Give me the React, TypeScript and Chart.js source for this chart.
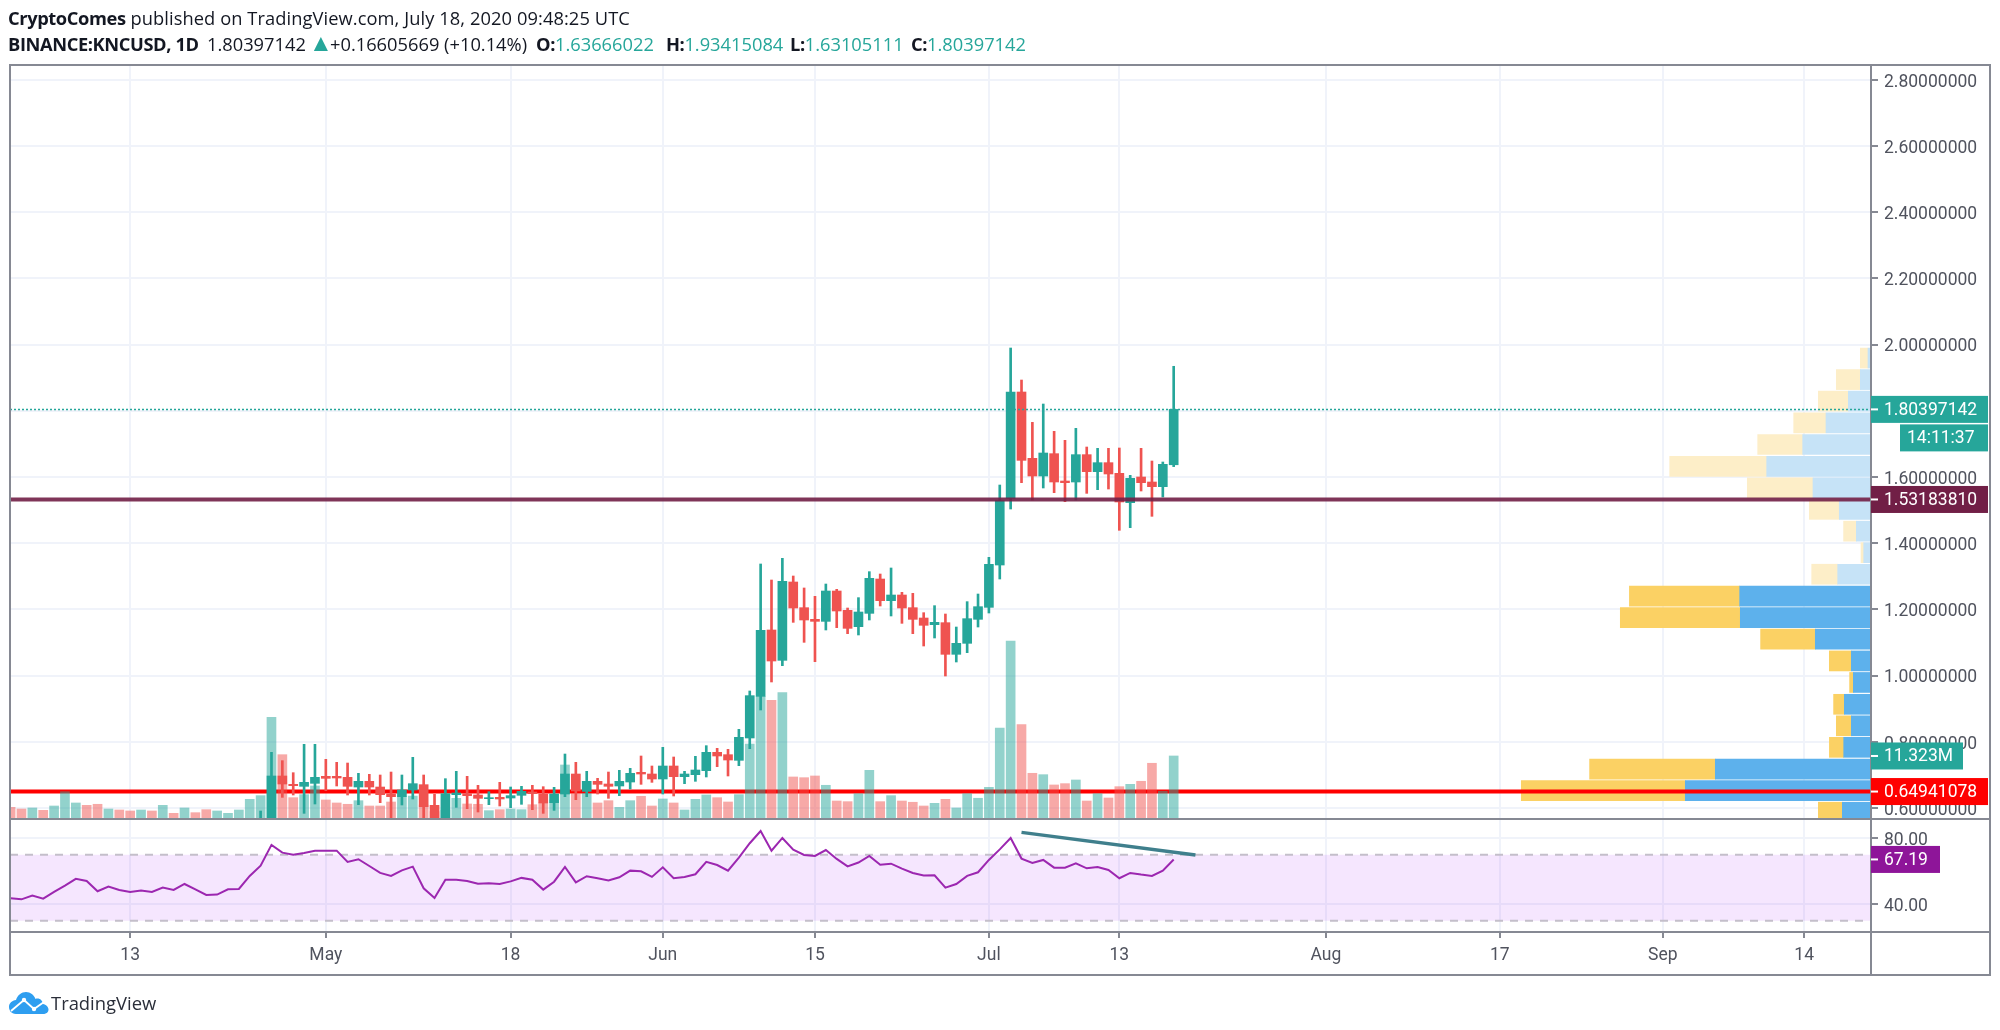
import React, { useEffect, useRef } from "react";
import { Chart, registerables } from "chart.js";

Chart.register(...registerables);

// ---------- data ----------
const candleStartDay = 23;
const opens = [
  0.54, 0.545, 0.6964, 0.6712, 0.6652, 0.6742, 0.6954, 0.6954, 0.6923, 0.6631,
  0.6803, 0.6631, 0.642, 0.6339, 0.6541, 0.6702, 0.6077, 0.5584, 0.64, 0.643,
  0.639, 0.6279, 0.6319, 0.6299, 0.638, 0.648, 0.642, 0.6158, 0.642, 0.7024,
  0.65, 0.6803, 0.6722, 0.6662, 0.6782, 0.7074, 0.7024, 0.6873, 0.7266, 0.6944,
  0.7004, 0.7125, 0.7679, 0.7608, 0.7437, 0.8112, 0.9371, 1.1375, 1.0458, 1.2825,
  1.2049, 1.1697, 1.1636, 1.2553, 1.1969, 1.1475, 1.1878, 1.2915, 1.2261, 1.2432,
  1.2049, 1.1737, 1.1536, 1.1596, 1.064, 1.0972, 1.1697, 1.2059, 1.3338, 1.5352,
  1.8565, 1.6561, 1.6027, 1.6702, 1.5876, 1.5846, 1.6672, 1.6158, 1.643, 1.6108,
  1.5222, 1.5997, 1.5846, 1.5705, 1.63666,
];
const highs = [
  0.5906, 0.7679, 0.7427, 0.7064, 0.792, 0.792, 0.7467, 0.7377, 0.7356, 0.7044,
  0.7014, 0.6994, 0.7084, 0.6994, 0.7528, 0.6994, 0.641, 0.6883, 0.7105, 0.6954,
  0.6682, 0.649, 0.6772, 0.6631, 0.6651, 0.6682, 0.6641, 0.6621, 0.7628, 0.7377,
  0.7105, 0.6893, 0.7084, 0.7135, 0.7195, 0.7568, 0.7266, 0.783, 0.7538, 0.7105,
  0.7558, 0.788, 0.78, 0.7769, 0.8374, 0.9532, 1.3369, 1.2885, 1.354, 1.3006,
  1.2644, 1.2392, 1.2764, 1.2603, 1.2039, 1.2352, 1.3137, 1.3066, 1.3248, 1.2513,
  1.2482, 1.1898, 1.211, 1.1858, 1.1465, 1.2231, 1.2462, 1.357, 1.5755, 1.9894,
  1.8927, 1.7648, 1.8202, 1.7377, 1.7105, 1.7467, 1.6903, 1.6863, 1.6863, 1.6873,
  1.6047, 1.6863, 1.648, 1.645, 1.93415,
];
const lows = [
  0.5, 0.53, 0.6319, 0.639, 0.5836, 0.6118, 0.6521, 0.6662, 0.639, 0.6098,
  0.639, 0.6158, 0.5695, 0.6088, 0.6269, 0.5695, 0.5433, 0.5514, 0.6017, 0.5977,
  0.5876, 0.6098, 0.6057, 0.6007, 0.6108, 0.5947, 0.5836, 0.5926, 0.6339, 0.6249,
  0.6339, 0.642, 0.6289, 0.637, 0.6571, 0.6712, 0.6772, 0.642, 0.636, 0.6732,
  0.6803, 0.6934, 0.7246, 0.6964, 0.7276, 0.779, 0.8958, 0.9804, 1.0297, 1.1606,
  1.1002, 1.0418, 1.1375, 1.1445, 1.1264, 1.1224, 1.1677, 1.21, 1.1798, 1.1576,
  1.1264, 1.0891, 1.1133, 0.9985, 1.0408, 1.069, 1.1465, 1.1888, 1.2915, 1.503,
  1.5826, 1.5302, 1.5665, 1.5524, 1.5252, 1.5302, 1.5503, 1.5614, 1.5634, 1.4386,
  1.4466, 1.5574, 1.4809, 1.5393, 1.63105,
];
const closes = [
  0.555, 0.6964, 0.6722, 0.6672, 0.6772, 0.6923, 0.6893, 0.6903, 0.6652, 0.6803,
  0.6631, 0.64, 0.6339, 0.6541, 0.6732, 0.6037, 0.5584, 0.643, 0.645, 0.637,
  0.6289, 0.6309, 0.6269, 0.637, 0.6501, 0.643, 0.6148, 0.642, 0.7024, 0.6511,
  0.6803, 0.6712, 0.6652, 0.6803, 0.7044, 0.7024, 0.6873, 0.7266, 0.6944, 0.7024,
  0.7145, 0.7679, 0.7568, 0.7447, 0.8132, 0.9391, 1.1365, 1.0438, 1.2845, 1.2039,
  1.1677, 1.1636, 1.2553, 1.1949, 1.1425, 1.1918, 1.2936, 1.2261, 1.2432, 1.2039,
  1.1697, 1.1516, 1.1606, 1.064, 1.0972, 1.1717, 1.2079, 1.3358, 1.5282, 1.8565,
  1.65, 1.6027, 1.6722, 1.5846, 1.5826, 1.6672, 1.6158, 1.643, 1.6088, 1.5242,
  1.5957, 1.5826, 1.5705, 1.638, 1.80397,
];

const volumes = [
  1.95, 1.64, 1.83, 1.4, 2.19, 4.8, 2.74, 2.31, 2.5, 1.64,
  1.46, 1.28, 1.46, 1.28, 2.31, 0.85, 1.83, 0.97, 1.52, 1.28,
  0.85, 1.46, 3.41, 4.08, 18.4, 11.56, 3.71, 4.26, 5.84, 3.29,
  2.74, 2.5, 3.16, 2.19, 2.19, 2.92, 3.9, 4.0, 2.37, 1.16,
  1.46, 3.59, 2.56, 2.5, 1.34, 1.52, 1.64, 1.52, 2.43, 2.8,
  3.29, 9.68, 4.5, 4.5, 2.74, 3.16, 1.95, 3.16, 3.96, 2.19,
  3.47, 2.74, 1.46, 3.41, 4.2, 3.71, 2.92, 4.26, 13.5, 22.2,
  21.5, 22.9, 7.49, 7.36, 7.67, 5.97, 3.1, 2.98, 4.44, 8.7,
  2.98, 4.08, 3.1, 2.87, 2.19, 2.68, 3.41, 1.83, 4.44, 3.6,
  5.6, 16.4, 32.3, 17.04, 8.16, 7.91, 6.03, 6.27, 6.94, 3.1,
  4.44, 3.65, 5.72, 6.15, 6.7, 9.99, 4.88, 11.323,
];
const volumeSides = (
  "rrgrgggrrg" + "rrgrgrgrrg" + "ggggg" + "rrgg" + "r" + "rrgrrrggrr" + "ggrrgrggrr" + "ggrgrrggrr" + "grgggrrggg" + "rgrrrgrrgg" + "rgrrrgrggg" + "ggg" + "rrgrrgrgrrgrrgg"
).split("");

const rsiValues = [
  43.6, 43.0, 45.3, 43.4, 47.5, 51.3, 55.4, 54.1, 47.9, 50.7,
  48.7, 47.5, 48.3, 47.5, 50.1, 48.7, 52.3, 49.1, 45.7, 45.9,
  49.1, 49.3, 57.2, 63.4, 76.0, 71.3, 70.1, 71.1, 72.5, 72.5,
  72.5, 65.7, 67.3, 63.2, 59.0, 57.2, 60.6, 62.8, 49.7, 43.8,
  54.9, 54.9, 54.1, 52.5, 52.7, 52.3, 53.9, 56.0, 54.9, 48.9,
  53.7, 62.6, 53.3, 57.0, 55.8, 54.5, 56.4, 60.4, 60.0, 56.6,
  62.4, 55.8, 56.6, 58.2, 65.7, 63.8, 60.4, 68.3, 77.0, 84.4,
  72.5, 80.2, 73.1, 69.9, 69.3, 72.9, 67.5, 63.0, 65.3, 69.3,
  64.0, 64.6, 61.6, 59.0, 57.4, 57.6, 50.1, 52.3, 57.2, 59.4,
  66.9, 73.3, 80.2, 67.7, 65.1, 66.9, 62.2, 62.2, 64.8, 61.8,
  62.6, 60.8, 55.8, 59.0, 58.0, 57.2, 60.4, 67.19,
];

const profilePrices = [
  1.959, 1.894, 1.829, 1.763, 1.698, 1.632, 1.567, 1.502, 1.436, 1.371, 1.306,
  1.24, 1.175, 1.11, 1.044, 0.979, 0.913, 0.848, 0.783, 0.717, 0.652, 0.587,
];
const profileUp = [
  3, 10.7, 22.7, 45, 68.3, 104.3, 58, 31.7, 14.7, 7.3, 33.3,
  131.3, 130.7, 55.7, 19.7, 17.7, 26.7, 19.7, 27.3, 155.7, 185.7, 28.7,
];
const profileDown = [
  7.7, 24, 30, 32.3, 45, 97, 65.7, 30, 12.7, 2.7, 26,
  110.3, 120, 54.7, 22, 3.7, 10.7, 15, 14.3, 125.7, 164, 24,
];
const profileValueAreaFrom = 11;

const priceTicks = [2.8, 2.6, 2.4, 2.2, 2.0, 1.8, 1.6, 1.4, 1.2, 1.0, 0.8, 0.6];
const rsiTicks = [80, 40];
const timeTickDays = [11, 29, 46, 60, 74, 90, 102, 121, 137, 152, 165];
const timeTickLabels = ["13", "May", "18", "Jun", "15", "Jul", "13", "Aug", "17", "Sep", "14"];

const lastPrice = 1.80397142;
const lastPriceText = "1.80397142";
const countdownText = "14:11:37";
const resistance = 1.5318381;
const resistanceText = "1.53183810";
const support = 0.64941078;
const supportText = "0.64941078";
const lastVolume = 11.323;
const lastVolumeText = "11.323M";
const lastRsi = 67.19;
const lastRsiText = "67.19";
const trendDays = [93, 109];
const trendRsi = [83.6, 69.9];

// ---------- styles ----------
const UP = "#26a69a";
const DOWN = "#ef5350";
const UP_VOL = "rgba(38,166,154,0.5)";
const DOWN_VOL = "rgba(239,83,80,0.5)";
const GRID = "#f0f3fa";
const FRAME = "#868993";
const TEXT = "#50535e";
const AXIS_FONT = "Roboto";
const AXIS_SIZE = 17.5;

const xMin = -0.055;
const xMax = 171.15;
const days = volumes.map((_, i) => i);
const candleDays = opens.map((_, i) => candleStartDay + i);
const isUp = opens.map((o, i) => closes[i] >= o);

const tagPlugin = {
  id: "tags",
  afterDatasetsDraw(chart: any) {
    const { ctx, scales, chartArea } = chart;
    const ax = chartArea.right;
    const frameRight = 1990;
    const frameBottom = 975;
    const splitY = scales.y.bottom;

    ctx.save();
    ctx.strokeStyle = FRAME;
    ctx.lineWidth = 2;
    ctx.beginPath();
    ctx.rect(chartArea.left, chartArea.top, frameRight - chartArea.left, frameBottom - chartArea.top);
    ctx.moveTo(chartArea.left, splitY);
    ctx.lineTo(frameRight, splitY);
    ctx.moveTo(chartArea.left, chartArea.bottom);
    ctx.lineTo(frameRight, chartArea.bottom);
    ctx.moveTo(ax, chartArea.top);
    ctx.lineTo(ax, frameBottom);
    ctx.stroke();

    ctx.font = `${AXIS_SIZE}px ${AXIS_FONT}`;
    ctx.textBaseline = "middle";
    ctx.textAlign = "left";
    const tag = (cy: number, w: number, bg: string, text: string) => {
      ctx.fillStyle = bg;
      ctx.fillRect(ax, cy - 13.5, w, 27);
      ctx.fillStyle = "#ffffff";
      ctx.fillRect(ax, cy - 1, 7, 2);
      ctx.fillText(text, ax + 13, cy + 1);
    };
    const py = scales.y.getPixelForValue(lastPrice);
    tag(scales.rsi.getPixelForValue(lastRsi), 69, "#8e1599", lastRsiText);
    tag(scales.vol.getPixelForValue(lastVolume), 92, UP, lastVolumeText);
    tag(scales.y.getPixelForValue(support), 117, "#ff0000", supportText);
    tag(scales.y.getPixelForValue(resistance), 117, "#711f46", resistanceText);
    tag(py, 117, UP, lastPriceText);
    ctx.fillStyle = UP;
    ctx.fillRect(ax + 29, py + 15, 88, 27);
    ctx.fillStyle = "#ffffff";
    ctx.fillText(countdownText, ax + 36, py + 29);
    ctx.restore();
  },
};

const fitWidth = (scale: any) => {
  scale.width = 119;
};

export default function App() {
  const ref = useRef<HTMLCanvasElement | null>(null);

  useEffect(() => {
    const canvas = ref.current!;
    const line = (x0: number, y0: number, x1: number, y1: number) => [
      { x: x0, y: y0 },
      { x: x1, y: y1 },
    ];
    const chart = new Chart(canvas, {
      type: "bar",
      plugins: [tagPlugin],
      data: {
        datasets: [
          {
            type: "bar",
            indexAxis: "y",
            xAxisID: "vp",
            yAxisID: "y",
            order: 90,
            grouped: false,
            barThickness: 20,
            data: profilePrices.map((p, i) => ({ y: p, x: [0, profileUp[i]] })),
            backgroundColor: profilePrices.map((_, i) =>
              i >= profileValueAreaFrom ? "#5db1ec" : "#c6e3f7"
            ),
          },
          {
            type: "bar",
            indexAxis: "y",
            xAxisID: "vp",
            yAxisID: "y",
            order: 91,
            grouped: false,
            barThickness: 20,
            data: profilePrices.map((p, i) => ({
              y: p,
              x: [profileUp[i], profileUp[i] + profileDown[i]],
            })),
            backgroundColor: profilePrices.map((_, i) =>
              i >= profileValueAreaFrom ? "#fbd164" : "#fdeec8"
            ),
          },
          {
            type: "line",
            order: 80,
            xAxisID: "x",
            yAxisID: "y",
            data: line(xMin, support, xMax, support),
            borderColor: "#ff0000",
            borderWidth: 4,
            pointRadius: 0,
          },
          {
            type: "bar",
            order: 70,
            xAxisID: "x",
            yAxisID: "vol",
            grouped: false,
            barThickness: 9,
            data: days.map((d) => ({ x: d, y: volumes[d] })),
            backgroundColor: days.map((d) => (volumeSides[d] === "g" ? UP_VOL : DOWN_VOL)),
          },
          {
            type: "bar",
            order: 60,
            xAxisID: "x",
            yAxisID: "y",
            grouped: false,
            barThickness: 2,
            data: candleDays.map((d, i) => ({ x: d, y: [lows[i], highs[i]] })),
            backgroundColor: isUp.map((u) => (u ? UP : DOWN)),
          },
          {
            type: "bar",
            order: 50,
            xAxisID: "x",
            yAxisID: "y",
            grouped: false,
            barThickness: 9,
            data: candleDays.map((d, i) => ({ x: d, y: [opens[i], closes[i]] })),
            backgroundColor: isUp.map((u) => (u ? UP : DOWN)),
          },
          {
            type: "line",
            order: 45,
            xAxisID: "x",
            yAxisID: "y",
            data: line(xMin, lastPrice, xMax, lastPrice),
            borderColor: UP,
            borderWidth: 1.5,
            borderDash: [2, 2],
            pointRadius: 0,
          },
          {
            type: "line",
            order: 40,
            xAxisID: "x",
            yAxisID: "y",
            data: line(xMin, resistance, xMax, resistance),
            borderColor: "rgba(113,31,70,0.9)",
            borderWidth: 4,
            pointRadius: 0,
          },
          {
            type: "line",
            order: 30,
            xAxisID: "x",
            yAxisID: "rsi",
            data: line(xMin, 70, xMax, 70),
            borderColor: "#c4bfca",
            borderWidth: 2,
            borderDash: [8, 7],
            pointRadius: 0,
            fill: { value: 30 },
            backgroundColor: "rgba(172,47,247,0.12)",
          },
          {
            type: "line",
            order: 29,
            xAxisID: "x",
            yAxisID: "rsi",
            data: line(xMin, 30, xMax, 30),
            borderColor: "#c4bfca",
            borderWidth: 2,
            borderDash: [8, 7],
            pointRadius: 0,
          },
          {
            type: "line",
            order: 20,
            xAxisID: "x",
            yAxisID: "rsi",
            data: days.map((d) => ({ x: d, y: rsiValues[d] })),
            borderColor: "#9c27b0",
            borderWidth: 2,
            pointRadius: 0,
            tension: 0,
          },
          {
            type: "line",
            order: 10,
            xAxisID: "x",
            yAxisID: "rsi",
            data: line(trendDays[0], trendRsi[0], trendDays[1], trendRsi[1]),
            borderColor: "#3f7f8c",
            borderWidth: 3.5,
            pointRadius: 0,
          },
        ] as any,
      },
      options: {
        responsive: false,
        animation: false,
        devicePixelRatio: 1,
        layout: { padding: { left: 10, top: 65, right: 10, bottom: 55 } },
        plugins: { legend: { display: false }, tooltip: { enabled: false }, title: { display: false } },
        events: [],
        scales: {
          x: {
            type: "linear",
            min: xMin,
            max: xMax,
            offset: false,
            position: "bottom",
            afterBuildTicks: (s: any) => {
              s.ticks = timeTickDays.map((value) => ({ value }));
            },
            afterFit: (s: any) => {
              s.height = 43;
            },
            grid: { color: GRID, lineWidth: 2, tickColor: FRAME, tickLength: 6, offset: false },
            border: { display: false },
            ticks: {
              autoSkip: false,
              maxRotation: 0,
              minRotation: 0,
              padding: 7,
              color: TEXT,
              font: { family: AXIS_FONT, size: AXIS_SIZE },
              callback: (v: any) => timeTickLabels[timeTickDays.indexOf(v)] ?? "",
            },
          },
          y: {
            type: "linear",
            position: "right",
            stack: "panes",
            stackWeight: 754,
            weight: 1,
            min: 0.56647,
            max: 2.84441,
            offset: false,
            beginAtZero: false,
            afterBuildTicks: (s: any) => {
              s.ticks = priceTicks.map((value) => ({ value }));
            },
            afterFit: fitWidth,
            grid: { color: GRID, lineWidth: 2, tickColor: FRAME, tickLength: 7, offset: false },
            border: { display: false },
            ticks: {
              autoSkip: false,
              padding: 6,
              labelOffset: 2.5,
              color: TEXT,
              font: { family: AXIS_FONT, size: AXIS_SIZE },
              callback: (v: any) => Number(v).toFixed(8),
            },
          },
          rsi: {
            type: "linear",
            axis: "y",
            position: "right",
            stack: "panes",
            stackWeight: 113,
            weight: 2,
            min: 23.2,
            max: 91.7,
            offset: false,
            afterBuildTicks: (s: any) => {
              s.ticks = rsiTicks.map((value) => ({ value }));
            },
            afterFit: fitWidth,
            grid: { color: GRID, lineWidth: 2, tickColor: FRAME, tickLength: 7, offset: false },
            border: { display: false },
            ticks: {
              autoSkip: false,
              padding: 6,
              labelOffset: 2.5,
              color: TEXT,
              font: { family: AXIS_FONT, size: AXIS_SIZE },
              callback: (v: any) => Number(v).toFixed(2),
            },
          },
          vol: {
            type: "linear",
            axis: "y",
            display: false,
            min: -20.82,
            max: 137.5,
            offset: false,
            beginAtZero: false,
          },
          vp: {
            type: "linear",
            axis: "x",
            display: false,
            reverse: true,
            min: 0,
            max: 1861,
            offset: false,
            beginAtZero: false,
          },
        },
      } as any,
    });
    return () => chart.destroy();
  }, []);

  const dark = "#131722";
  const teal = UP;
  const headerFont: React.CSSProperties = {
    position: "absolute",
    left: 8,
    fontFamily: "'Open Sans'",
    fontSize: 18.3,
    lineHeight: "24px",
    color: dark,
    whiteSpace: "nowrap",
  };
  const b = (t: string) => <b style={{ fontWeight: 700, letterSpacing: -0.4 }}>{t}</b>;
  const v = (t: string) => <span style={{ color: teal }}>{t}</span>;
  const seg = (left: number, content: React.ReactNode) => (
    <div style={{ ...headerFont, top: 32, left }}>{content}</div>
  );

  return (
    <div style={{ position: "absolute", left: 0, top: 0, width: 2000, height: 1030, background: "#fff", overflow: "hidden" }}>
      <canvas ref={ref} width={2000} height={1030} style={{ display: "block" }} />
      <div style={{ ...headerFont, top: 6 }}>
        {b("CryptoComes")}
        <span style={{ letterSpacing: 0.08 }}> published on TradingView.com, July 18, 2020 09:48:25 UTC</span>
      </div>
      {seg(8, b("BINANCE:KNCUSD, 1D"))}
      {seg(207, "1.80397142")}
      {seg(309, <span style={{ color: teal, fontSize: 24, lineHeight: "20px" }}>▲</span>)}
      {seg(330, "+0.16605669 (+10.14%)")}
      {seg(536, <>{b("O:")}{v("1.63666022")}</>)}
      {seg(666, <>{b("H:")}{v("1.93415084")}</>)}
      {seg(790, <>{b("L:")}{v("1.63105111")}</>)}
      {seg(911, <>{b("C:")}{v("1.80397142")}</>)}
      <svg style={{ position: "absolute", left: 9, top: 991 }} width={40} height={24} viewBox="0 0 40 24">
        <path
          d="M7 23 C2 23 0 19 0 16 C0 12 3 9.5 7 9 C8.5 4 12.5 1 17 1 C21.5 1 25 4 26.5 8 C28 7 31 7.5 32.5 9.5 C33.5 11 34 12 34 13 C37 13.5 39.5 16 39.5 18.5 C39.5 21.5 37 23 34 23 Z"
          fill="#2e9ef0"
        />
        <polyline points="2,20 15,9 25,18 35,11" fill="none" stroke="#ffffff" strokeWidth="1.8" />
        <circle cx="15" cy="9" r="2.2" fill="#ffffff" />
        <circle cx="25" cy="18" r="2.2" fill="#ffffff" />
      </svg>
      <div style={{ position: "absolute", left: 51, top: 990, fontFamily: "'Open Sans'", fontSize: 18.4, lineHeight: "26px", color: "#2a2e39" }}>
        TradingView
      </div>
    </div>
  );
}
